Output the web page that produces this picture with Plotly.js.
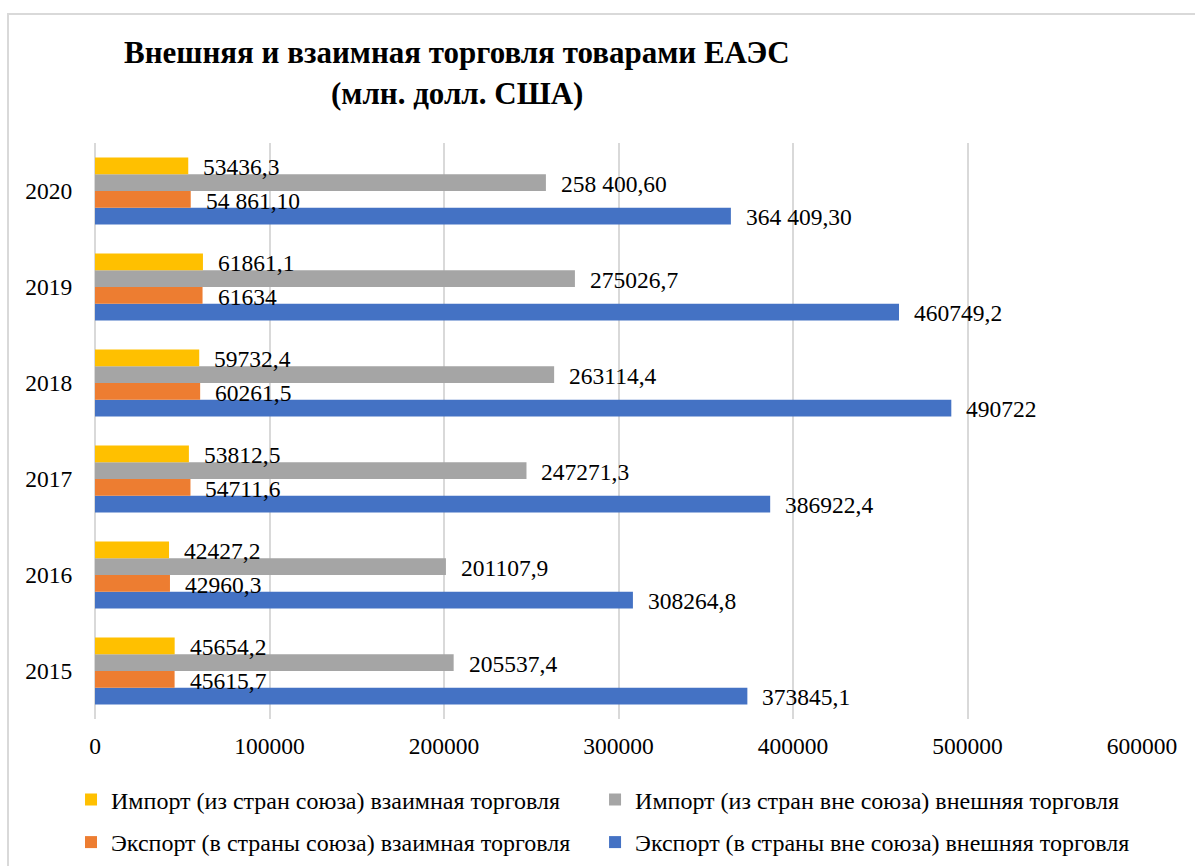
<!DOCTYPE html>
<html>
<head>
<meta charset="utf-8">
<script src="https://cdn.plot.ly/plotly-3.0.1.min.js"></script>
<style>
html,body{margin:0;padding:0;background:#fff;}
#wrap{position:absolute;left:7px;top:13px;width:1200px;height:870px;border:2px solid #d9d9d9;box-sizing:border-box;}
#chart{position:absolute;left:0;top:0;width:1195px;height:866px;}
</style>
</head>
<body>
<div id="wrap"></div>
<div id="chart"></div>
<script>
const years = [2015, 2016, 2017, 2018, 2019, 2020];
const seriesNames = [
  'Экспорт (в страны вне союза) внешняя торговля',
  'Экспорт (в страны союза) взаимная торговля',
  'Импорт (из стран вне союза) внешняя торговля',
  'Импорт (из стран союза) взаимная торговля'
];
const exportOuter = [373845.1, 308264.8, 386922.4, 490722, 460749.2, 364409.3];
const exportMutual = [45615.7, 42960.3, 54711.6, 60261.5, 61634, 54861.1];
const importOuter = [205537.4, 201107.9, 247271.3, 263114.4, 275026.7, 258400.6];
const importMutual = [45654.2, 42427.2, 53812.5, 59732.4, 61861.1, 53436.3];
const exportOuterLabels = ['373845,1','308264,8','386922,4','490722','460749,2','364 409,30'];
const exportMutualLabels = ['45615,7','42960,3','54711,6','60261,5','61634','54 861,10'];
const importOuterLabels = ['205537,4','201107,9','247271,3','263114,4','275026,7','258 400,60'];
const importMutualLabels = ['45654,2','42427,2','53812,5','59732,4','61861,1','53436,3'];
const colors = ['#4472C4','#ED7D31','#A5A5A5','#FFC000'];

const values = [exportOuter, exportMutual, importOuter, importMutual];
const labels = [exportOuterLabels, exportMutualLabels, importOuterLabels, importMutualLabels];
// legend slot per series: row/column placement (blue: row2 col2, orange: row2 col1, gray: row1 col2, yellow: row1 col1)
const legendIds = ['legend4','legend3','legend2','legend'];
const shifts = [-25, -8.5, 8.5, 25];

const FONT = 'Liberation Serif';
const FS = 23.5;

const traces = values.map((v, i) => ({
  type: 'bar',
  orientation: 'h',
  name: seriesNames[i],
  y: years,
  x: v,
  marker: {color: colors[i], line: {width: 0}},
  legend: legendIds[i]
}));

const annotations = [];
values.forEach((v, i) => {
  v.forEach((val, j) => {
    annotations.push({
      x: val, y: years[j], xref: 'x', yref: 'y',
      text: labels[i][j], showarrow: false,
      xanchor: 'left', yanchor: 'middle',
      xshift: 13, yshift: shifts[i] - 1,
      font: {family: FONT, size: FS, color: '#000'}
    });
  });
});
annotations.push({
  xref: 'paper', yref: 'paper', x: 0.3457, y: 1, yshift: 91,
  text: '<b>Внешняя и взаимная торговля товарами ЕАЭС</b>',
  showarrow: false, xanchor: 'center', yanchor: 'middle',
  font: {family: FONT, size: 31, color: '#000'}
});
annotations.push({
  xref: 'paper', yref: 'paper', x: 0.3457, y: 1, yshift: 50,
  text: '<b>(млн. долл. США)</b>',
  showarrow: false, xanchor: 'center', yanchor: 'middle',
  font: {family: FONT, size: 31, color: '#000'}
});

function legendCfg(x, y) {
  return {
    orientation: 'h', xanchor: 'left', yanchor: 'middle',
    x: x, y: y,
    font: {family: FONT, size: 24, color: '#000'},
    bgcolor: 'rgba(0,0,0,0)', itemwidth: 30
  };
}
const col1 = -0.0229, col2 = 0.4776, row1 = -0.1406, row2 = -0.2144;

const layout = {
  width: 1195, height: 866,
  margin: {l: 95, r: 53, t: 143, b: 147, autoexpand: false},
  paper_bgcolor: 'rgba(0,0,0,0)',
  plot_bgcolor: 'rgba(0,0,0,0)',
  barmode: 'group',
  bargap: 0.3,
  bargroupgap: 0,
  showlegend: true,
  font: {family: FONT, size: FS, color: '#000'},
  xaxis: {
    range: [0, 600000], dtick: 100000, tick0: 0,
    showgrid: true, gridcolor: '#d9d9d9', gridwidth: 2,
    zeroline: true, zerolinecolor: '#d9d9d9', zerolinewidth: 2,
    tickfont: {family: FONT, size: FS, color: '#000'},
    ticks: 'outside', ticklen: 6, tickcolor: 'rgba(0,0,0,0)', tickformat: 'd',
    fixedrange: true, automargin: false
  },
  yaxis: {
    type: 'linear', range: [2014.5, 2020.5], tickmode: 'array', tickvals: years,
    ticktext: years.map(String),
    showgrid: false, zeroline: false, showline: false,
    tickfont: {family: FONT, size: FS, color: '#000'},
    ticks: 'outside', ticklen: 17, tickcolor: 'rgba(0,0,0,0)',
    fixedrange: true, automargin: false
  },
  legend: legendCfg(col1, row1),
  legend2: legendCfg(col2, row1),
  legend3: legendCfg(col1, row2),
  legend4: legendCfg(col2, row2),
  annotations: annotations
};

Plotly.newPlot('chart', traces, layout, {displayModeBar: false, staticPlot: true});
</script>
</body>
</html>
